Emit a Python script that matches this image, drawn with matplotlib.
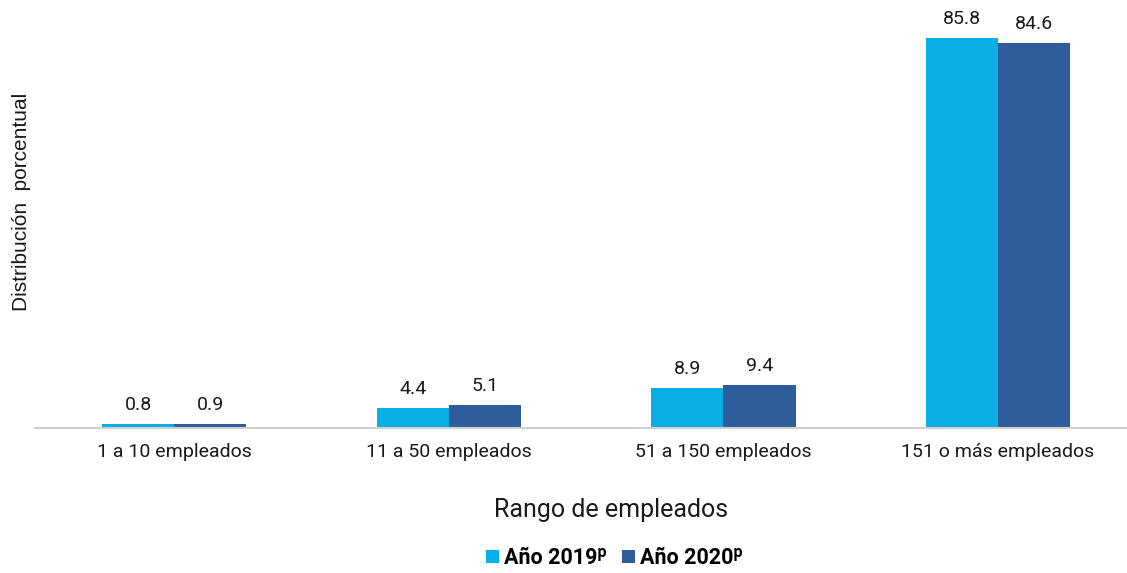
import matplotlib.pyplot as plt
import numpy as np

categorias = ['1 a 10 empleados', '11 a 50 empleados', '51 a 150 empleados', '151 o más empleados']
anio_2019 = [0.8, 4.4, 8.9, 85.8]
anio_2020 = [0.9, 5.1, 9.4, 84.6]
series = ['Año 2019ᵖ', 'Año 2020ᵖ']

plt.rcParams['font.family'] = ['Roboto', 'DejaVu Sans']

fig = plt.figure(figsize=(11.27, 5.73), dpi=100)
ax = fig.add_axes([0.031, 0.253, 0.969, 0.73])

x = np.arange(len(categorias))
w = 0.263
b1 = ax.bar(x - w / 2, anio_2019, w, color='#08AEE6', label=series[0])
b2 = ax.bar(x + w / 2, anio_2020, w, color='#2F5C9A', label=series[1])

for bars in (b1, b2):
    for r in bars:
        ax.text(r.get_x() + r.get_width() / 2, r.get_height() + 2.2, f'{r.get_height():.1f}',
                ha='center', va='bottom', fontsize=14, color='#1a1a1a')

ax.set_xlim(-0.507, 3.47)
ax.set_ylim(0, 92)
ax.set_xticks(x)
ax.set_xticklabels(categorias, fontsize=14, color='#1a1a1a')
ax.tick_params(axis='x', length=0, pad=11)
ax.set_yticks([])
for s in ['top', 'right', 'left']:
    ax.spines[s].set_visible(False)
ax.spines['bottom'].set_color('#d0d0d0')
ax.spines['bottom'].set_linewidth(1.5)

ax.set_xlabel('Rango de empleados', fontsize=18, color='#1a1a1a')
ax.xaxis.set_label_coords(0.528, -0.168)
fig.text(0.019, 0.647, 'Distribución  porcentual', rotation=90, ha='center', va='center',
         fontsize=15, family='Liberation Sans', color='#1a1a1a')

leg = fig.legend(loc='center', bbox_to_anchor=(0.545, 0.026), ncol=2, frameon=False,
                 prop={'size': 15.5, 'weight': 'bold'}, handlelength=0.6, handleheight=0.6,
                 handletextpad=0.25, columnspacing=0.7)

fig.savefig('out.png', dpi=100)
